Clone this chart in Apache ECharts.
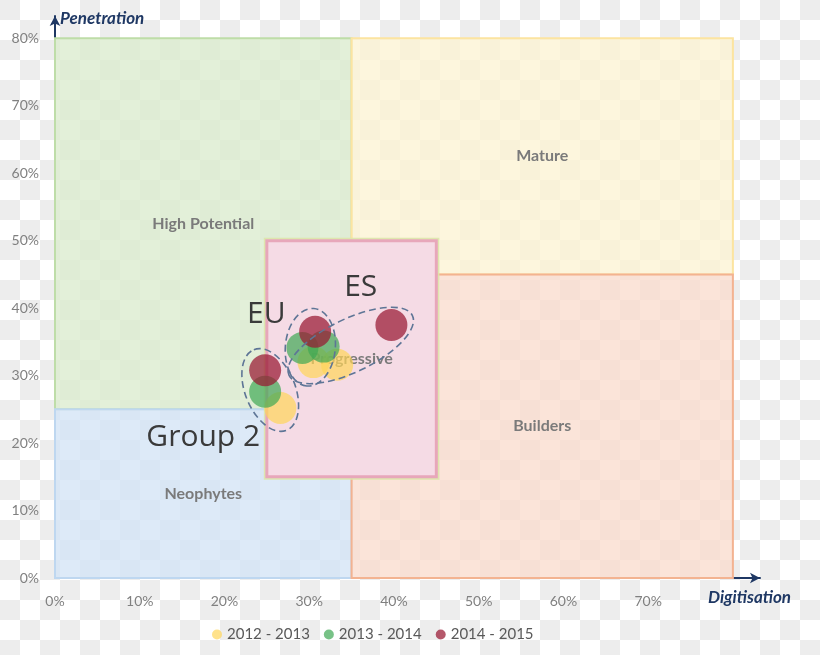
<!DOCTYPE html>
<html>
<head>
<meta charset="utf-8">
<script src="https://cdn.jsdelivr.net/npm/echarts@6/dist/echarts.min.js"></script>
<style>
html,body{margin:0;padding:0;background:#fff;}
#chart{width:820px;height:655px;}
</style>
</head>
<body>
<div id="chart"></div>
<script>
// ---- data ----
const periods = ['2012 - 2013', '2013 - 2014', '2014 - 2015'];
const groups = ['Group 2', 'EU', 'ES'];
const digitisation2012 = [26.6, 30.5, 33.3];
const penetration2012 = [25.2, 32.0, 31.6];
const digitisation2013 = [24.8, 29.2, 31.7];
const penetration2013 = [27.6, 34.1, 34.3];
const digitisation2014 = [24.8, 30.7, 39.7];
const penetration2014 = [30.8, 36.5, 37.5];

const segmentNames = ['High Potential', 'Mature', 'Neophytes', 'Builders', 'Progressive'];
const segmentDigitFrom = [0, 35, 0, 35, 25];
const segmentDigitTo = [35, 80, 35, 80, 45];
const segmentPenFrom = [25, 45, 0, 0, 15];
const segmentPenTo = [80, 80, 25, 45, 50];

const xTickValues = [0, 10, 20, 30, 40, 50, 60, 70];
const yTickValues = [0, 10, 20, 30, 40, 50, 60, 70, 80];

// ---- styles ----
const periodColors = ['rgba(255,214,90,0.88)', 'rgba(62,168,84,0.88)', 'rgba(152,24,50,0.9)'];
const segmentStyles = {
  'High Potential': { fill: 'rgba(219,236,206,0.78)', stroke: '#BEDDA8', lineWidth: 2 },
  'Mature': { fill: 'rgba(252,243,211,0.78)', stroke: '#FCE4A0', lineWidth: 2 },
  'Neophytes': { fill: 'rgba(211,228,246,0.78)', stroke: '#BED7F0', lineWidth: 2 },
  'Builders': { fill: 'rgba(250,220,206,0.78)', stroke: '#F3B391', lineWidth: 2 },
  'Progressive': { fill: '#F5DBE5', stroke: '#E7A7BA', lineWidth: 3 }
};
const groupLabelOffsets = [[-67, 47], [-44, -33], [10, -58]];
const navy = '#1F3864';

const seriesDigit = [digitisation2012, digitisation2013, digitisation2014];
const seriesPen = [penetration2012, penetration2013, penetration2014];

// checker background
const cv = document.createElement('canvas');
cv.width = 40; cv.height = 40;
const cx2 = cv.getContext('2d');
cx2.fillStyle = '#FFFFFF'; cx2.fillRect(0, 0, 40, 40);
cx2.fillStyle = '#EDEDED'; cx2.fillRect(0, 0, 20, 20); cx2.fillRect(20, 20, 20, 20);

const chart = echarts.init(document.getElementById('chart'), null, { renderer: 'canvas' });

function segmentItem(params, api) {
  const name = segmentNames[params.dataIndex];
  const st = segmentStyles[name];
  const p0 = api.coord([api.value(0), api.value(3)]);
  const p1 = api.coord([api.value(2), api.value(1)]);
  const children = [];
  if (name === 'Progressive') {
    children.push({
      type: 'rect',
      shape: { x: p0[0] - 2, y: p0[1] - 2, width: p1[0] - p0[0] + 4, height: p1[1] - p0[1] + 4 },
      style: { fill: 'none', stroke: 'rgba(220,230,170,0.9)', lineWidth: 2 }
    });
  }
  children.push({
    type: 'rect',
    shape: { x: p0[0], y: p0[1], width: p1[0] - p0[0], height: p1[1] - p0[1] },
    style: { fill: st.fill, stroke: st.stroke, lineWidth: st.lineWidth }
  });
  children.push({
    type: 'text',
    style: {
      text: name, x: (p0[0] + p1[0]) / 2, y: (p0[1] + p1[1]) / 2,
      align: 'center', verticalAlign: 'middle',
      fill: '#7A7A7A', font: 'bold 16px Lato'
    }
  });
  return { type: 'group', children };
}

function ellipseItem(params, api) {
  const i = params.dataIndex;
  const pts = [0, 1, 2].map(k => api.coord([seriesDigit[k][i], seriesPen[k][i]]));
  const mx = pts.reduce((s, p) => s + p[0], 0) / pts.length;
  const my = pts.reduce((s, p) => s + p[1], 0) / pts.length;
  let sxx = 0, syy = 0, sxy = 0;
  pts.forEach(p => { const dx = p[0] - mx, dy = p[1] - my; sxx += dx * dx; syy += dy * dy; sxy += dx * dy; });
  const theta = 0.5 * Math.atan2(2 * sxy, sxx - syy);
  const ux = Math.cos(theta), uy = Math.sin(theta);
  let maxP = 0, maxQ = 0;
  pts.forEach(p => {
    const dx = p[0] - mx, dy = p[1] - my;
    maxP = Math.max(maxP, Math.abs(dx * ux + dy * uy));
    maxQ = Math.max(maxQ, Math.abs(-dx * uy + dy * ux));
  });
  const rx = maxP + 23, ry = Math.max(25, maxQ + 15);
  const off = groupLabelOffsets[i];
  return {
    type: 'group',
    children: [
      {
        type: 'ellipse', x: mx, y: my, rotation: -theta,
        shape: { cx: 0, cy: 0, rx: rx, ry: ry },
        style: { fill: 'none', stroke: '#5E7596', lineWidth: 1.6, lineDash: [7, 4] }
      },
      {
        type: 'text',
        style: {
          text: groups[i], x: mx + off[0], y: my + off[1],
          align: 'center', verticalAlign: 'middle',
          fill: '#3A3A3A', font: '30px "Open Sans"'
        }
      }
    ]
  };
}

const option = {
  animation: false,
  graphic: [{
    type: 'rect', z: -100, silent: true,
    shape: { x: 0, y: 0, width: 820, height: 655 },
    style: { fill: { image: cv, repeat: 'repeat' } }
  }],
  grid: { left: 55, right: 60, top: 16, bottom: 77 },
  legend: {
    data: periods,
    left: 207, top: 622,
    icon: 'circle', itemWidth: 10, itemHeight: 10, itemGap: 14,
    textStyle: { color: '#595959', fontSize: 15, fontFamily: 'Lato' }
  },
  xAxis: {
    type: 'value', min: 0, max: 83.2, interval: 10,
    name: 'Digitisation', nameLocation: 'end', nameGap: -52,
    nameTextStyle: { color: navy, fontSize: 17, fontWeight: 'bold', fontStyle: 'italic', fontFamily: 'Lato', align: 'left', verticalAlign: 'top', padding: [11, 0, 0, 0] },
    axisLine: { show: true, onZero: false, symbol: ['none', 'arrow'], symbolSize: [8, 10], lineStyle: { color: navy, width: 2 } },
    axisTick: { show: false },
    splitLine: { show: false },
    axisLabel: {
      margin: 16, color: '#808080', fontSize: 14, fontFamily: 'Lato',
      formatter: v => xTickValues.includes(v) ? v + '%' : ''
    }
  },
  yAxis: {
    type: 'value', min: 0, max: 83.3, interval: 10,
    name: 'Penetration', nameLocation: 'end', nameGap: -3,
    nameTextStyle: { color: navy, fontSize: 17, fontWeight: 'bold', fontStyle: 'italic', fontFamily: 'Lato', align: 'left', verticalAlign: 'middle', padding: [0, 0, 0, 5] },
    axisLine: { show: true, onZero: false, symbol: ['none', 'arrow'], symbolSize: [8, 10], lineStyle: { color: navy, width: 2 } },
    axisTick: { show: false },
    splitLine: { show: false },
    axisLabel: {
      margin: 16, color: '#808080', fontSize: 14, fontFamily: 'Lato',
      formatter: v => yTickValues.includes(v) ? v + '%' : ''
    }
  },
  series: [
    {
      type: 'custom', name: 'segments', z: 1, silent: true,
      renderItem: segmentItem,
      data: segmentNames.map((n, i) => [segmentDigitFrom[i], segmentPenFrom[i], segmentDigitTo[i], segmentPenTo[i]])
    },
    ...periods.map((p, k) => ({
      type: 'scatter', name: p, z: 3 + k,
      symbolSize: 32,
      itemStyle: { color: periodColors[k] },
      data: seriesDigit[k].map((x, i) => [x, seriesPen[k][i]])
    })),
    {
      type: 'custom', name: 'groups', z: 10, silent: true,
      renderItem: ellipseItem,
      data: groups.map((g, i) => [digitisation2014[i], penetration2014[i]])
    }
  ]
};
chart.setOption(option);
</script>
</body>
</html>
